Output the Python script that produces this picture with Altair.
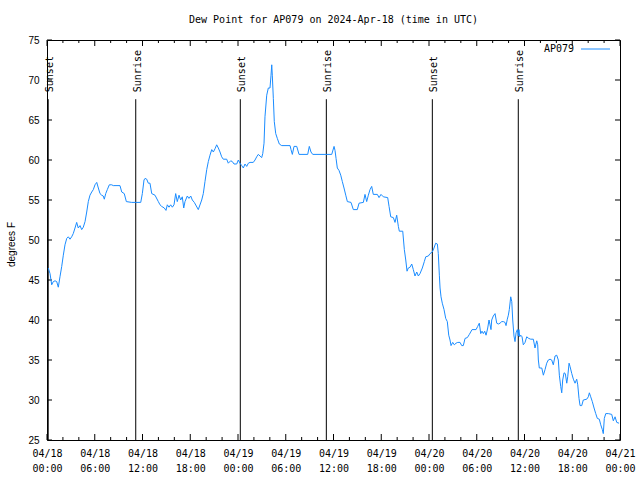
import altair as alt
import pandas as pd

# ---------------- data ----------------
title_text = "Dew Point for AP079 on 2024-Apr-18 (time in UTC)"
series_name = "AP079"
y_title = "degrees F"

# hours since 2024-04-18 00:00 UTC
hours = [
    0.16, 0.38, 0.59, 0.79, 1.01, 1.22, 1.42, 1.63, 1.85, 2.05, 2.26, 2.48, 2.68, 2.89, 3.10, 3.30,
    3.52, 3.73, 3.93, 4.15, 4.36, 4.56, 4.78, 4.99, 5.19, 5.40, 5.62, 5.82, 6.03, 6.25, 6.45, 6.66,
    6.87, 7.07, 7.20, 7.38, 7.58, 7.83, 8.13, 8.33, 9.17, 9.39, 9.71, 9.97, 10.64, 11.78, 11.98,
    12.19, 12.32, 12.53, 12.73, 12.94, 13.16, 13.57, 13.99, 14.20, 14.41, 14.74, 14.95, 15.12,
    15.33, 15.54, 15.75, 15.96, 16.17, 16.37, 16.59, 16.80, 17.00, 17.18, 17.34, 17.63, 17.84,
    18.06, 18.26, 18.51, 19.01, 19.44, 19.64, 19.85, 20.07, 20.27, 20.48, 20.70, 20.90, 21.11,
    21.32, 21.53, 21.74, 21.95, 22.15, 22.58, 22.78, 23.08, 23.29, 23.50, 23.84, 24.04, 24.25,
    24.47, 24.67, 24.88, 25.09, 25.30, 25.51, 25.92, 26.14, 26.35, 26.55, 26.77, 26.98, 27.11,
    27.27, 27.39, 27.61, 27.81, 28.02, 28.15, 28.24, 28.31, 28.44, 28.56, 28.74, 28.94, 29.19,
    29.49, 30.54, 30.66, 30.83, 31.04, 31.38, 31.67, 32.76, 32.96, 33.17, 33.39, 35.78, 36.07,
    36.19, 36.32, 36.48, 36.69, 36.91, 37.11, 37.32, 37.54, 37.74, 38.20, 38.49, 38.99, 39.21,
    39.75, 39.96, 40.17, 40.38, 40.59, 40.80, 41.00, 41.51, 41.72, 41.97, 42.26, 42.81, 42.98,
    43.19, 43.52, 43.73, 43.94, 44.15, 44.27, 44.70, 44.90, 45.08, 45.24, 45.40, 45.62, 45.83,
    46.03, 46.24, 46.46, 46.66, 46.87, 47.16, 47.41, 47.59, 47.92, 48.13, 48.42, 48.63, 48.84,
    49.05, 49.17, 49.30, 49.39, 49.51, 49.67, 49.89, 50.10, 50.30, 50.48, 50.64, 50.77, 50.98,
    51.18, 51.40, 51.61, 51.90, 52.11, 52.31, 52.53, 52.82, 53.07, 53.24, 53.41, 53.91, 54.12,
    54.32, 54.50, 54.66, 54.83, 55.00, 55.17, 55.38, 55.54, 55.67, 55.79, 55.88, 56.08, 56.30,
    56.51, 56.71, 56.92, 57.14, 57.34, 57.55, 57.68, 57.84, 57.97, 58.09, 58.27, 58.40, 58.52,
    58.68, 58.81, 58.94, 59.10, 59.22, 59.30, 59.40, 59.53, 59.69, 59.85, 60.07, 60.28, 60.53,
    60.78, 61.11, 61.32, 61.54, 61.66, 61.74, 61.86, 62.17, 62.37, 62.58, 62.79, 62.99, 63.21,
    63.42, 63.62, 63.84, 64.05, 64.25, 64.38, 64.55, 64.68, 64.80, 64.97, 65.13, 65.31, 65.43,
    65.60, 65.72, 65.94, 66.14, 66.35, 66.56, 66.69, 66.85, 66.98, 67.19, 67.39, 67.82, 68.02,
    68.15, 68.32, 68.52, 68.74, 68.95, 69.15, 69.40, 69.58, 69.78, 69.90, 70.03, 70.21, 70.53,
    70.96, 71.16, 71.38, 71.59, 71.88,
]
dew_point = [
    46.5, 45.8, 44.4, 44.8, 44.9, 44.8, 44.1, 45.4, 46.7, 48.1, 49.4, 50.2, 50.4, 50.1, 50.4, 50.8,
    51.5, 52.2, 51.5, 51.8, 51.3, 51.6, 52.3, 53.5, 54.8, 55.6, 56.0, 56.3, 56.9, 57.2, 56.5, 55.8,
    55.6, 55.5, 55.1, 55.8, 56.3, 56.9, 56.9, 56.8, 56.8, 56.0, 55.8, 54.8, 54.7, 54.7, 55.8,
    57.5, 57.7, 57.6, 57.1, 57.1, 55.8, 55.6, 54.8, 54.4, 54.2, 54.0, 53.7, 54.4,
    54.1, 54.4, 54.1, 54.4, 55.8, 54.8, 55.6, 55.0, 55.4, 54.0, 54.8, 55.5, 55.2,
    55.5, 55.0, 54.7, 53.8, 55.0, 55.8, 57.3, 58.8, 59.8, 60.6, 61.3, 61.0, 61.4,
    61.9, 61.5, 61.0, 60.4, 60.1, 60.1, 59.6, 59.9, 59.8, 59.5, 59.5, 60.0, 59.6,
    59.3, 59.0, 59.5, 59.2, 59.6, 59.7, 59.7, 60.0, 60.4, 60.7, 60.5, 60.3, 60.8,
    62.1, 65.4, 68.1, 69.0, 69.0, 70.6, 71.9, 70.6, 67.7, 64.8, 63.3, 62.7, 62.0,
    61.8, 61.8, 61.3, 60.7, 61.7, 61.7, 60.7, 60.7, 61.7, 61.0, 60.7, 60.7, 61.7,
    61.2, 60.2, 59.0, 58.7, 58.1, 57.3, 56.5, 55.6, 54.8, 54.7, 53.8, 53.8, 54.6,
    54.7, 55.7, 54.8, 55.6, 56.3, 56.7, 55.7, 55.7, 55.3, 55.7, 55.4, 55.3, 54.2,
    52.9, 52.8, 52.2, 53.1, 51.7, 51.1, 51.1, 48.8, 47.5, 46.1, 46.5, 46.6, 47.0,
    46.3, 45.5, 46.0, 45.5, 45.8, 46.5, 47.3, 47.9, 48.0, 48.3, 48.5, 49.0, 49.6,
    49.5, 48.3, 45.6, 44.0, 42.9, 42.1, 41.3, 40.2, 39.8, 38.1, 37.5, 36.8, 37.2,
    36.9, 37.1, 37.2, 37.2, 36.8, 36.8, 37.7, 37.8, 38.2, 38.5, 38.8, 38.8, 39.2,
    39.6, 38.3, 38.6, 38.3, 38.6, 38.1, 39.0, 40.0, 39.4, 38.8, 40.0, 40.5, 40.8,
    39.6, 39.5, 39.6, 39.8, 39.8, 39.7, 39.3, 40.1, 40.6, 41.3, 42.9, 42.3, 40.0,
    38.0, 37.3, 38.4, 38.8, 38.0, 38.8, 37.9, 38.1, 37.9, 36.9, 37.2, 37.9, 37.7,
    37.6, 37.6, 36.5, 37.4, 36.9, 35.0, 34.0, 34.0, 33.1, 33.8, 34.6, 35.0, 35.1,
    35.0, 34.4, 35.5, 35.6, 35.0, 33.1, 31.7, 30.9, 32.5, 33.4, 33.3, 32.1, 32.9,
    34.6, 34.2, 33.3, 32.6, 32.1, 32.6, 31.9, 30.2, 29.3, 29.3, 30.0, 30.1, 30.4,
    30.9, 30.4, 29.8, 29.0, 28.3, 27.7, 27.6, 26.9, 26.3, 25.8, 27.7, 28.3, 28.3,
    28.2, 27.4, 27.9, 27.2, 27.1,
]

sun_hours = [0.15, 11.15, 24.29, 35.10, 48.42, 59.22]
sun_labels = ["Sunset", "Sunrise", "Sunset", "Sunrise", "Sunset", "Sunrise"]
marker_top = 67.6
marker_bottom = 25

x_major_ticks = [0, 6, 12, 18, 24, 30, 36, 42, 48, 54, 60, 66, 72]
x_minor_ticks = [2, 4, 8, 10, 14, 16, 20, 22, 26, 28, 32, 34, 38, 40, 44, 46, 50, 52, 56, 58, 62, 64, 68, 70]
y_ticks = [25, 30, 35, 40, 45, 50, 55, 60, 65, 70, 75]

# ---------------- styling ----------------
W, H = 573, 400
LINE_COLOR = "#1a8cff"
MONO = "DejaVu Sans Mono"
SANS = "Liberation Sans"

df = pd.DataFrame({"hour": hours, "dew": dew_point})
sun_df = pd.DataFrame({"hour": sun_hours, "label": sun_labels,
                       "top": [marker_top] * len(sun_hours),
                       "bottom": [marker_bottom] * len(sun_hours)})
xmaj = pd.DataFrame({"h": x_major_ticks})
xmin = pd.DataFrame({"h": x_minor_ticks})
ytk = pd.DataFrame({"v": y_ticks})

x_scale = alt.Scale(domain=[0, 72], nice=False, zero=False)
y_scale = alt.Scale(domain=[25, 75], nice=False, zero=False)

label_expr = ("['04/' + (18 + floor(datum.value / 24)), "
              "(datum.value % 24 < 10 ? '0' : '') + (datum.value % 24) + ':00']")

x_axis = alt.Axis(values=x_major_ticks, labelExpr=label_expr, ticks=False, domain=False,
                  grid=False, title=None, labelFont=MONO, labelFontSize=10,
                  labelColor="black", labelAngle=0, labelPadding=8, labelLineHeight=15,
                  labelBaseline="top", labelFlush=False, labelOverlap=False)
y_axis = alt.Axis(values=y_ticks, ticks=False, domain=False, grid=False, title=y_title,
                  labelFont=SANS, labelFontSize=10, labelColor="black", labelPadding=8,
                  labelFlush=False, titleFont=SANS, titleFontSize=10, titleFontWeight="normal",
                  titleColor="black", titleX=-31, titleY=204)


def X(f):
    return alt.X(f"{f}:Q", scale=x_scale, axis=x_axis)


def Y(f):
    return alt.Y(f"{f}:Q", scale=y_scale, axis=y_axis)


line = alt.Chart(df).mark_line(color=LINE_COLOR, strokeWidth=1, interpolate="linear").encode(
    x=X("hour"), y=Y("dew"))

sun_rules = alt.Chart(sun_df).mark_rule(color="black", strokeWidth=1).encode(
    x=X("hour"), y=Y("top"), y2="bottom:Q")

sun_text = alt.Chart(sun_df).mark_text(angle=270, align="left", baseline="alphabetic",
                                       dx=7, dy=5, font=MONO, fontSize=10,
                                       color="black").encode(
    x=X("hour"), y=Y("top"), text="label:N")

xt_bot_maj = alt.Chart(xmaj).mark_rule(color="black", strokeWidth=1).encode(
    x=X("h"), y=alt.value(H), y2=alt.value(H - 6))
xt_top_maj = alt.Chart(xmaj).mark_rule(color="black", strokeWidth=1).encode(
    x=X("h"), y=alt.value(0), y2=alt.value(6))
xt_bot_min = alt.Chart(xmin).mark_rule(color="black", strokeWidth=1).encode(
    x=X("h"), y=alt.value(H), y2=alt.value(H - 3))
xt_top_min = alt.Chart(xmin).mark_rule(color="black", strokeWidth=1).encode(
    x=X("h"), y=alt.value(0), y2=alt.value(3))
yt_left = alt.Chart(ytk).mark_rule(color="black", strokeWidth=1).encode(
    y=Y("v"), x=alt.value(0), x2=alt.value(5))
yt_right = alt.Chart(ytk).mark_rule(color="black", strokeWidth=1).encode(
    y=Y("v"), x=alt.value(W), x2=alt.value(W - 5))

leg_df = pd.DataFrame({"name": [series_name]})
leg_text = alt.Chart(leg_df).mark_text(align="right", baseline="middle", font=MONO,
                                       fontSize=10, color="black").encode(
    text="name:N", x=alt.value(527), y=alt.value(9))
leg_line = alt.Chart(leg_df).mark_rule(color=LINE_COLOR, strokeWidth=1).encode(
    x=alt.value(534), x2=alt.value(563), y=alt.value(9))

chart = alt.layer(
    xt_bot_maj, xt_top_maj, xt_bot_min, xt_top_min, yt_left, yt_right,
    sun_rules, sun_text, line, leg_text, leg_line,
).properties(
    width=W, height=H,
    title=alt.TitleParams(text=title_text, font=MONO, fontSize=10, fontWeight="normal",
                          color="black", anchor="middle", offset=10),
    padding={"left": 47, "top": 40, "right": 20, "bottom": 40},
    autosize=alt.AutoSizeParams(type="none"),
    background="white",
).configure_view(stroke="black", strokeWidth=1)

chart.save("out.html", embed_options={"renderer": "svg", "actions": False})
